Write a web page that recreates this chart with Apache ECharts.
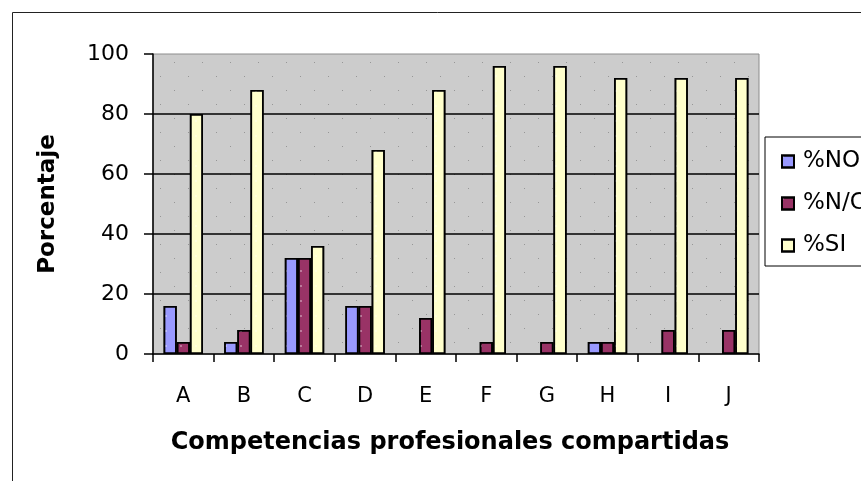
<!DOCTYPE html>
<html>
<head>
<meta charset="utf-8">
<script src="https://cdn.jsdelivr.net/npm/echarts@6/dist/echarts.min.js"></script>
<style>
  html, body { margin: 0; padding: 0; background: #fff; }
  #chart { width: 861px; height: 481px; }
</style>
</head>
<body>
<div id="chart"></div>
<script>
// Competencias profesionales compartidas: respuestas en porcentaje
const categories = ['A', 'B', 'C', 'D', 'E', 'F', 'G', 'H', 'I', 'J'];
const seriesNames = ['%NO', '%N/C', '%SI'];
const valuesNo = [16, 4, 32, 16, 0, 0, 0, 4, 0, 0];
const valuesNC = [4, 8, 32, 16, 12, 4, 4, 4, 8, 8];
const valuesSi = [80, 88, 36, 68, 88, 96, 96, 92, 92, 92];
const yTicks = [0, 20, 40, 60, 80, 100];

const FONT = '"DejaVu Sans", "Liberation Sans", Arial, sans-serif';

// Dotted grey fill for the plotting area
function dottedTile() {
  const c = document.createElement('canvas');
  c.width = 28; c.height = 28;
  const g = c.getContext('2d');
  g.fillStyle = '#cccccc';
  g.fillRect(0, 0, 28, 28);
  g.fillStyle = '#969696';
  g.fillRect(6, 6, 1, 1);
  g.fillRect(20, 20, 1, 1);
  return c;
}

const dotDecal = {
  symbol: 'rect',
  symbolSize: 1,
  color: 'rgba(255,255,255,0.35)',
  dashArrayX: [1.5, 12.5],
  dashArrayY: [1.5, 12.5]
};

// A zero share draws no bar at all, not even its outline
function barData(values) {
  return values.map(v => v === 0 ? { value: v, itemStyle: { borderWidth: 0, opacity: 0 } } : v);
}

function barSeries(name, values, color) {
  return {
    name: name,
    type: 'bar',
    data: barData(values),
    barGap: '0%',
    barCategoryGap: '35%',
    itemStyle: { color: color, borderColor: '#000', borderWidth: 1.6, decal: dotDecal },
    emphasis: { disabled: true }
  };
}

const chart = echarts.init(document.getElementById('chart'), null, { renderer: 'canvas' });
chart.setOption({
  animation: false,
  backgroundColor: '#ffffff',
  graphic: [{
    type: 'rect',
    left: 10, top: 10,
    shape: { width: 900, height: 520 },
    style: { fill: 'none', stroke: '#222', lineWidth: 1 },
    silent: true,
    z: -1
  }],
  grid: {
    left: 153, right: 102, top: 54, bottom: 127,
    show: true,
    backgroundColor: { image: dottedTile(), repeat: 'repeat' },
    borderColor: '#8c8c8c',
    borderWidth: 1
  },
  legend: {
    orient: 'vertical',
    left: 765, top: 137,
    padding: [13, 30, 9, 16],
    itemWidth: 12, itemHeight: 12,
    itemGap: 19,
    backgroundColor: '#fff',
    borderColor: '#000',
    borderWidth: 1,
    icon: 'rect',
    textStyle: { fontFamily: FONT, fontSize: 23, color: '#000', padding: [0, 0, 0, 4] },
    data: seriesNames
  },
  xAxis: {
    type: 'category',
    data: categories,
    name: 'Competencias profesionales compartidas',
    nameLocation: 'middle',
    nameGap: 77,
    nameTextStyle: { fontFamily: FONT, fontSize: 24, fontWeight: 'bold', color: '#000', padding: [0, 12, 0, 0] },
    axisLine: { lineStyle: { color: '#000', width: 1.5 } },
    axisTick: { show: true, length: 8, lineStyle: { color: '#000', width: 1.5 } },
    axisLabel: { fontFamily: FONT, fontSize: 21, color: '#000', margin: 32 },
    splitLine: { show: false }
  },
  yAxis: {
    type: 'value',
    min: yTicks[0],
    max: yTicks[yTicks.length - 1],
    interval: yTicks[1] - yTicks[0],
    name: 'Porcentaje',
    nameLocation: 'middle',
    nameGap: 93,
    nameTextStyle: { fontFamily: FONT, fontSize: 23, fontWeight: 'bold', color: '#000' },
    axisLine: { show: true, lineStyle: { color: '#000', width: 1.5 } },
    axisTick: { show: true, length: 9, lineStyle: { color: '#000', width: 1.5 } },
    axisLabel: { fontFamily: FONT, fontSize: 22, color: '#000', margin: 24 },
    splitLine: { show: true, showMinLine: false, showMaxLine: false, lineStyle: { color: '#000', width: 1.5 } }
  },
  series: [
    barSeries(seriesNames[0], valuesNo, '#9999ff'),
    barSeries(seriesNames[1], valuesNC, '#993366'),
    barSeries(seriesNames[2], valuesSi, '#ffffcc')
  ]
});
</script>
</body>
</html>
